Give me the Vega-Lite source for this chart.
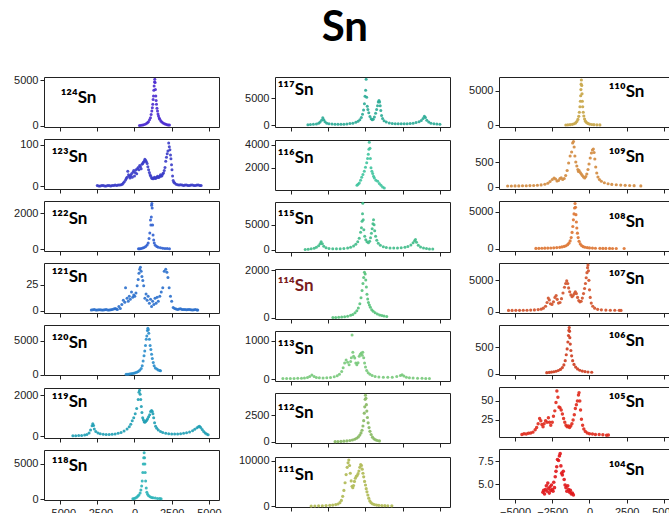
{
"padding": {"left": 13, "top": 6, "right": 0, "bottom": 4},
"title": {"text": "Sn", "font": "Lato", "fontSize": 42, "fontWeight": "bold", "color": "#000", "anchor": "middle", "offset": 24},
"config": {
  "view": {"stroke": "#222", "strokeWidth": 1},
  "axis": {"labelFont": "Liberation Sans", "labelFontSize": 11, "labelColor": "#222", "tickColor": "#222", "tickSize": 4, "labelPadding": 2, "domain": false, "grid": false},
  "axisX": {"labelPadding": 3}
},
"datasets": {
"s124": [{"x":336,"y":50},{"x":450,"y":80},{"x":560,"y":110},{"x":670,"y":170},{"x":784,"y":255},{"x":870,"y":350},{"x":941,"y":475},{"x":1010,"y":680},{"x":1075,"y":910},{"x":1120,"y":1250},{"x":1165,"y":1640},{"x":1200,"y":2000},{"x":1232,"y":2370},{"x":1255,"y":2900},{"x":1277,"y":3285},{"x":1300,"y":3900},{"x":1322,"y":4380},{"x":1345,"y":4800},{"x":1366,"y":5110},{"x":1389,"y":4745},{"x":1410,"y":4000},{"x":1434,"y":3285},{"x":1456,"y":2800},{"x":1478,"y":2370},{"x":1510,"y":1950},{"x":1546,"y":1640},{"x":1580,"y":1300},{"x":1613,"y":1095},{"x":1660,"y":880},{"x":1702,"y":730},{"x":1770,"y":560},{"x":1837,"y":440},{"x":1920,"y":330},{"x":2016,"y":255},{"x":2100,"y":190},{"x":2195,"y":145},{"x":2280,"y":120},{"x":2352,"y":110}],
"s123": [{"x":-2500,"y":2},{"x":-2400,"y":1},{"x":-2300,"y":1},{"x":-2200,"y":2},{"x":-2100,"y":2},{"x":-2000,"y":1},{"x":-1900,"y":1},{"x":-1800,"y":2},{"x":-1700,"y":2},{"x":-1600,"y":1},{"x":-1500,"y":2},{"x":-1400,"y":2},{"x":-1300,"y":3},{"x":-1200,"y":2},{"x":-1100,"y":3},{"x":-1000,"y":3},{"x":-900,"y":4},{"x":-820,"y":5},{"x":-750,"y":8},{"x":-680,"y":11},{"x":-600,"y":15},{"x":-550,"y":19},{"x":-500,"y":22},{"x":-450,"y":36},{"x":-400,"y":28},{"x":-350,"y":24},{"x":-300,"y":20},{"x":-250,"y":26},{"x":-200,"y":30},{"x":-150,"y":22},{"x":-100,"y":34},{"x":-50,"y":38},{"x":0,"y":25},{"x":50,"y":33},{"x":100,"y":40},{"x":150,"y":30},{"x":200,"y":42},{"x":250,"y":45},{"x":300,"y":40},{"x":350,"y":50},{"x":400,"y":47},{"x":450,"y":42},{"x":500,"y":53},{"x":550,"y":55},{"x":600,"y":58},{"x":650,"y":60},{"x":700,"y":65},{"x":750,"y":62},{"x":800,"y":59},{"x":850,"y":55},{"x":900,"y":47},{"x":950,"y":40},{"x":1000,"y":33},{"x":1050,"y":28},{"x":1100,"y":24},{"x":1150,"y":20},{"x":1200,"y":19},{"x":1250,"y":18},{"x":1300,"y":20},{"x":1350,"y":22},{"x":1400,"y":19},{"x":1450,"y":20},{"x":1500,"y":22},{"x":1550,"y":24},{"x":1600,"y":21},{"x":1650,"y":22},{"x":1700,"y":25},{"x":1750,"y":28},{"x":1800,"y":24},{"x":1850,"y":26},{"x":1900,"y":30},{"x":1950,"y":32},{"x":2000,"y":38},{"x":2050,"y":45},{"x":2100,"y":60},{"x":2150,"y":70},{"x":2200,"y":78},{"x":2250,"y":85},{"x":2300,"y":104},{"x":2340,"y":95},{"x":2380,"y":88},{"x":2420,"y":75},{"x":2450,"y":66},{"x":2490,"y":52},{"x":2520,"y":40},{"x":2560,"y":25},{"x":2600,"y":14},{"x":2650,"y":10},{"x":2700,"y":8},{"x":2800,"y":5},{"x":2900,"y":4},{"x":3000,"y":3},{"x":3100,"y":4},{"x":3200,"y":3},{"x":3300,"y":2},{"x":3400,"y":3},{"x":3500,"y":3},{"x":3600,"y":2},{"x":3700,"y":2},{"x":3800,"y":3},{"x":3900,"y":3},{"x":4000,"y":2},{"x":4100,"y":2},{"x":4200,"y":3},{"x":4300,"y":3},{"x":4400,"y":2},{"x":4480,"y":2}],
"s122": [{"x":269,"y":30},{"x":350,"y":35},{"x":450,"y":50},{"x":550,"y":70},{"x":650,"y":100},{"x":750,"y":150},{"x":850,"y":240},{"x":920,"y":350},{"x":980,"y":600},{"x":1030,"y":900},{"x":1075,"y":1630},{"x":1100,"y":1350},{"x":1130,"y":1800},{"x":1150,"y":2450},{"x":1170,"y":2550},{"x":1190,"y":2300},{"x":1220,"y":1350},{"x":1250,"y":800},{"x":1290,"y":520},{"x":1330,"y":350},{"x":1400,"y":220},{"x":1500,"y":150},{"x":1600,"y":110},{"x":1750,"y":80},{"x":1900,"y":60},{"x":2050,"y":50},{"x":2200,"y":40},{"x":2350,"y":35}],
"s121": [{"x":-2900,"y":0.5},{"x":-2800,"y":0.8},{"x":-2700,"y":1},{"x":-2600,"y":0.6},{"x":-2500,"y":0.5},{"x":-2400,"y":0.9},{"x":-2300,"y":0.8},{"x":-2200,"y":0.6},{"x":-2100,"y":0.5},{"x":-2000,"y":0.8},{"x":-1900,"y":1},{"x":-1800,"y":0.6},{"x":-1700,"y":0.7},{"x":-1600,"y":0.9},{"x":-1500,"y":1.2},{"x":-1400,"y":1.5},{"x":-1300,"y":2},{"x":-1220,"y":1.5},{"x":-1150,"y":1},{"x":-1050,"y":4},{"x":-950,"y":2},{"x":-850,"y":6},{"x":-750,"y":10},{"x":-650,"y":8},{"x":-600,"y":22},{"x":-500,"y":12},{"x":-420,"y":9},{"x":-350,"y":14},{"x":-280,"y":11},{"x":-200,"y":18},{"x":-120,"y":13},{"x":-50,"y":15},{"x":20,"y":14},{"x":100,"y":17},{"x":180,"y":24},{"x":250,"y":30},{"x":300,"y":36},{"x":350,"y":40},{"x":400,"y":42},{"x":450,"y":38},{"x":500,"y":33},{"x":560,"y":29},{"x":620,"y":24},{"x":700,"y":12},{"x":780,"y":16},{"x":850,"y":10},{"x":920,"y":14},{"x":1000,"y":7},{"x":1080,"y":11},{"x":1150,"y":4},{"x":1220,"y":9},{"x":1300,"y":6},{"x":1380,"y":12},{"x":1450,"y":7},{"x":1520,"y":13},{"x":1600,"y":9},{"x":1700,"y":14},{"x":1800,"y":18},{"x":1900,"y":22},{"x":2000,"y":38},{"x":2100,"y":40},{"x":2180,"y":37},{"x":2250,"y":32},{"x":2330,"y":22},{"x":2420,"y":14},{"x":2500,"y":9},{"x":2600,"y":3},{"x":2700,"y":2},{"x":2800,"y":1.5},{"x":2900,"y":1},{"x":3000,"y":1.5},{"x":3100,"y":1.8},{"x":3200,"y":1},{"x":3300,"y":1.2},{"x":3400,"y":1},{"x":3500,"y":0.8},{"x":3600,"y":1.1},{"x":3700,"y":1},{"x":3800,"y":0.8},{"x":3900,"y":0.7},{"x":4000,"y":0.9},{"x":4100,"y":1},{"x":4200,"y":0.6},{"x":4250,"y":0.5}],
"s120": [{"x":-560,"y":60},{"x":-450,"y":80},{"x":-350,"y":100},{"x":-250,"y":130},{"x":-150,"y":170},{"x":-50,"y":220},{"x":50,"y":280},{"x":150,"y":360},{"x":250,"y":480},{"x":350,"y":650},{"x":450,"y":900},{"x":520,"y":1300},{"x":580,"y":2000},{"x":640,"y":2800},{"x":690,"y":3500},{"x":740,"y":4300},{"x":790,"y":5200},{"x":830,"y":5700},{"x":870,"y":6500},{"x":900,"y":6850},{"x":930,"y":6600},{"x":960,"y":6100},{"x":1000,"y":5200},{"x":1050,"y":4300},{"x":1100,"y":3700},{"x":1150,"y":3000},{"x":1200,"y":2400},{"x":1260,"y":1800},{"x":1320,"y":1300},{"x":1400,"y":1000},{"x":1500,"y":850},{"x":1600,"y":700},{"x":1700,"y":620},{"x":1750,"y":580}],
"s119": [{"x":-4140,"y":10},{"x":-3950,"y":15},{"x":-3750,"y":20},{"x":-3550,"y":30},{"x":-3350,"y":50},{"x":-3200,"y":80},{"x":-3050,"y":150},{"x":-2950,"y":300},{"x":-2850,"y":500},{"x":-2800,"y":600},{"x":-2750,"y":520},{"x":-2700,"y":350},{"x":-2600,"y":220},{"x":-2450,"y":150},{"x":-2300,"y":110},{"x":-2100,"y":90},{"x":-1900,"y":80},{"x":-1700,"y":80},{"x":-1500,"y":90},{"x":-1300,"y":100},{"x":-1100,"y":130},{"x":-900,"y":170},{"x":-700,"y":240},{"x":-500,"y":340},{"x":-350,"y":450},{"x":-250,"y":580},{"x":-150,"y":750},{"x":-50,"y":900},{"x":50,"y":1100},{"x":150,"y":1350},{"x":250,"y":1800},{"x":300,"y":2150},{"x":340,"y":2250},{"x":380,"y":2050},{"x":420,"y":1800},{"x":460,"y":1450},{"x":500,"y":1150},{"x":550,"y":900},{"x":600,"y":800},{"x":650,"y":700},{"x":700,"y":680},{"x":760,"y":720},{"x":820,"y":780},{"x":880,"y":850},{"x":950,"y":950},{"x":1020,"y":1050},{"x":1080,"y":1200},{"x":1150,"y":1250},{"x":1200,"y":1200},{"x":1240,"y":1100},{"x":1290,"y":900},{"x":1350,"y":650},{"x":1420,"y":480},{"x":1500,"y":380},{"x":1600,"y":300},{"x":1750,"y":220},{"x":1900,"y":170},{"x":2100,"y":130},{"x":2300,"y":110},{"x":2500,"y":100},{"x":2700,"y":100},{"x":2900,"y":100},{"x":3100,"y":110},{"x":3300,"y":130},{"x":3500,"y":160},{"x":3700,"y":200},{"x":3900,"y":260},{"x":4050,"y":330},{"x":4200,"y":400},{"x":4300,"y":460},{"x":4370,"y":480},{"x":4450,"y":420},{"x":4550,"y":320},{"x":4650,"y":220},{"x":4750,"y":150},{"x":4850,"y":100},{"x":4950,"y":60}],
"s118": [{"x":-110,"y":80},{"x":-20,"y":130},{"x":60,"y":200},{"x":150,"y":300},{"x":230,"y":450},{"x":300,"y":600},{"x":380,"y":900},{"x":430,"y":1300},{"x":480,"y":1900},{"x":520,"y":2600},{"x":560,"y":3800},{"x":590,"y":5000},{"x":620,"y":5900},{"x":650,"y":6600},{"x":680,"y":5900},{"x":700,"y":5000},{"x":720,"y":3800},{"x":750,"y":2600},{"x":790,"y":1600},{"x":830,"y":1000},{"x":880,"y":700},{"x":950,"y":500},{"x":1050,"y":350},{"x":1150,"y":270},{"x":1250,"y":220},{"x":1400,"y":170},{"x":1550,"y":130},{"x":1700,"y":100},{"x":1790,"y":90}],
"s117": [{"x":-3870,"y":50},{"x":-3700,"y":80},{"x":-3500,"y":120},{"x":-3300,"y":200},{"x":-3150,"y":350},{"x":-3050,"y":550},{"x":-2950,"y":900},{"x":-2870,"y":1350},{"x":-2800,"y":1000},{"x":-2720,"y":600},{"x":-2600,"y":350},{"x":-2450,"y":230},{"x":-2250,"y":170},{"x":-2050,"y":140},{"x":-1850,"y":130},{"x":-1650,"y":140},{"x":-1450,"y":160},{"x":-1250,"y":200},{"x":-1050,"y":260},{"x":-850,"y":350},{"x":-650,"y":500},{"x":-500,"y":700},{"x":-380,"y":1000},{"x":-280,"y":1400},{"x":-200,"y":2000},{"x":-130,"y":2800},{"x":-70,"y":4000},{"x":-30,"y":5400},{"x":10,"y":6500},{"x":45,"y":8600},{"x":80,"y":5200},{"x":120,"y":3500},{"x":160,"y":2900},{"x":220,"y":2300},{"x":300,"y":1600},{"x":380,"y":1150},{"x":450,"y":1000},{"x":520,"y":1100},{"x":600,"y":1500},{"x":680,"y":2200},{"x":750,"y":2900},{"x":810,"y":3600},{"x":860,"y":4300},{"x":910,"y":4600},{"x":950,"y":4300},{"x":990,"y":3600},{"x":1030,"y":2700},{"x":1080,"y":1800},{"x":1150,"y":1200},{"x":1250,"y":800},{"x":1400,"y":550},{"x":1600,"y":380},{"x":1800,"y":290},{"x":2000,"y":240},{"x":2200,"y":220},{"x":2400,"y":220},{"x":2600,"y":230},{"x":2800,"y":250},{"x":3000,"y":290},{"x":3200,"y":350},{"x":3400,"y":450},{"x":3600,"y":600},{"x":3750,"y":850},{"x":3870,"y":1200},{"x":3960,"y":1650},{"x":4030,"y":1400},{"x":4120,"y":900},{"x":4250,"y":550},{"x":4400,"y":350},{"x":4600,"y":230},{"x":4800,"y":170},{"x":5000,"y":130}],
"s116": [{"x":-570,"y":470},{"x":-500,"y":560},{"x":-415,"y":670},{"x":-330,"y":900},{"x":-254,"y":1170},{"x":-170,"y":1420},{"x":-79,"y":1700},{"x":0,"y":2050},{"x":82,"y":2440},{"x":140,"y":2800},{"x":190,"y":3180},{"x":230,"y":3600},{"x":257,"y":4210},{"x":300,"y":3700},{"x":330,"y":2800},{"x":371,"y":2000},{"x":430,"y":1700},{"x":485,"y":1500},{"x":540,"y":1260},{"x":597,"y":1100},{"x":700,"y":900},{"x":821,"y":820},{"x":930,"y":620},{"x":1043,"y":470},{"x":1150,"y":330},{"x":1265,"y":240}],
"s115": [{"x":-4050,"y":60},{"x":-3850,"y":100},{"x":-3650,"y":170},{"x":-3450,"y":300},{"x":-3300,"y":500},{"x":-3150,"y":800},{"x":-3050,"y":1200},{"x":-2980,"y":1600},{"x":-2900,"y":1200},{"x":-2800,"y":700},{"x":-2650,"y":400},{"x":-2450,"y":250},{"x":-2200,"y":180},{"x":-1950,"y":170},{"x":-1700,"y":190},{"x":-1450,"y":250},{"x":-1200,"y":350},{"x":-1000,"y":500},{"x":-800,"y":750},{"x":-650,"y":1100},{"x":-520,"y":1600},{"x":-420,"y":2300},{"x":-330,"y":3500},{"x":-270,"y":4400},{"x":-230,"y":5700},{"x":-200,"y":7200},{"x":-180,"y":9300},{"x":-150,"y":6000},{"x":-110,"y":4000},{"x":-50,"y":2700},{"x":20,"y":2000},{"x":100,"y":1600},{"x":200,"y":1400},{"x":280,"y":1700},{"x":340,"y":2400},{"x":400,"y":3300},{"x":450,"y":4200},{"x":500,"y":5200},{"x":540,"y":6000},{"x":580,"y":5000},{"x":620,"y":3800},{"x":680,"y":2700},{"x":760,"y":1900},{"x":860,"y":1300},{"x":1000,"y":900},{"x":1200,"y":600},{"x":1400,"y":450},{"x":1650,"y":350},{"x":1900,"y":320},{"x":2150,"y":330},{"x":2400,"y":380},{"x":2650,"y":480},{"x":2850,"y":650},{"x":3050,"y":950},{"x":3200,"y":1400},{"x":3300,"y":1800},{"x":3360,"y":2050},{"x":3430,"y":1500},{"x":3550,"y":900},{"x":3700,"y":550},{"x":3900,"y":350},{"x":4100,"y":230},{"x":4300,"y":160},{"x":4520,"y":120}],
"s114": [{"x":-2190,"y":20},{"x":-2000,"y":25},{"x":-1800,"y":30},{"x":-1600,"y":40},{"x":-1400,"y":55},{"x":-1200,"y":75},{"x":-1000,"y":110},{"x":-850,"y":150},{"x":-700,"y":220},{"x":-580,"y":300},{"x":-480,"y":420},{"x":-380,"y":600},{"x":-300,"y":850},{"x":-230,"y":1150},{"x":-170,"y":1450},{"x":-120,"y":1700},{"x":-70,"y":1920},{"x":-20,"y":1850},{"x":20,"y":1600},{"x":60,"y":1300},{"x":100,"y":1000},{"x":150,"y":800},{"x":200,"y":650},{"x":260,"y":550},{"x":330,"y":450},{"x":420,"y":350},{"x":520,"y":280},{"x":650,"y":220},{"x":800,"y":170},{"x":950,"y":130},{"x":1100,"y":100},{"x":1250,"y":80},{"x":1430,"y":60}],
"s113": [{"x":-5550,"y":20},{"x":-5300,"y":20},{"x":-5050,"y":22},{"x":-4800,"y":22},{"x":-4550,"y":25},{"x":-4300,"y":28},{"x":-4100,"y":33},{"x":-3900,"y":45},{"x":-3750,"y":70},{"x":-3600,"y":110},{"x":-3450,"y":70},{"x":-3300,"y":45},{"x":-3100,"y":38},{"x":-2850,"y":35},{"x":-2600,"y":40},{"x":-2350,"y":48},{"x":-2100,"y":65},{"x":-1900,"y":90},{"x":-1750,"y":130},{"x":-1600,"y":200},{"x":-1500,"y":300},{"x":-1400,"y":420},{"x":-1300,"y":500},{"x":-1200,"y":440},{"x":-1100,"y":380},{"x":-1000,"y":460},{"x":-950,"y":560},{"x":-900,"y":1150},{"x":-850,"y":700},{"x":-800,"y":600},{"x":-720,"y":550},{"x":-650,"y":420},{"x":-580,"y":380},{"x":-500,"y":430},{"x":-420,"y":600},{"x":-350,"y":650},{"x":-280,"y":680},{"x":-220,"y":620},{"x":-180,"y":700},{"x":-120,"y":560},{"x":-60,"y":420},{"x":0,"y":320},{"x":80,"y":230},{"x":180,"y":170},{"x":300,"y":130},{"x":450,"y":100},{"x":650,"y":75},{"x":900,"y":60},{"x":1200,"y":50},{"x":1500,"y":50},{"x":1800,"y":55},{"x":2100,"y":70},{"x":2350,"y":100},{"x":2460,"y":115},{"x":2580,"y":85},{"x":2750,"y":55},{"x":2950,"y":40},{"x":3200,"y":32},{"x":3500,"y":28},{"x":3800,"y":25},{"x":4050,"y":22},{"x":4300,"y":20}],
"s112": [{"x":-2040,"y":30},{"x":-1850,"y":40},{"x":-1650,"y":55},{"x":-1450,"y":75},{"x":-1250,"y":100},{"x":-1050,"y":140},{"x":-880,"y":190},{"x":-730,"y":260},{"x":-600,"y":350},{"x":-480,"y":480},{"x":-380,"y":650},{"x":-300,"y":850},{"x":-230,"y":1100},{"x":-170,"y":1500},{"x":-120,"y":2000},{"x":-80,"y":2700},{"x":-50,"y":3300},{"x":-20,"y":4000},{"x":0,"y":4380},{"x":30,"y":4100},{"x":60,"y":3500},{"x":90,"y":2900},{"x":130,"y":2300},{"x":180,"y":1800},{"x":240,"y":1350},{"x":300,"y":1000},{"x":380,"y":700},{"x":470,"y":450},{"x":570,"y":300},{"x":680,"y":200},{"x":800,"y":140},{"x":940,"y":100}],
"s111": [{"x":-3650,"y":60},{"x":-3400,"y":80},{"x":-3150,"y":100},{"x":-2900,"y":130},{"x":-2650,"y":170},{"x":-2400,"y":220},{"x":-2200,"y":280},{"x":-2000,"y":380},{"x":-1850,"y":520},{"x":-1720,"y":800},{"x":-1620,"y":1300},{"x":-1530,"y":2200},{"x":-1450,"y":3500},{"x":-1370,"y":5200},{"x":-1300,"y":7000},{"x":-1230,"y":8600},{"x":-1170,"y":9600},{"x":-1120,"y":10200},{"x":-1070,"y":9000},{"x":-1020,"y":7300},{"x":-960,"y":5600},{"x":-900,"y":4400},{"x":-850,"y":4100},{"x":-800,"y":4600},{"x":-740,"y":5500},{"x":-680,"y":6200},{"x":-620,"y":6600},{"x":-560,"y":6800},{"x":-500,"y":7200},{"x":-440,"y":7800},{"x":-380,"y":8600},{"x":-320,"y":9200},{"x":-270,"y":9000},{"x":-220,"y":8200},{"x":-170,"y":7300},{"x":-120,"y":6500},{"x":-60,"y":5500},{"x":0,"y":4700},{"x":50,"y":3900},{"x":100,"y":3200},{"x":160,"y":2500},{"x":220,"y":1800},{"x":290,"y":1200},{"x":370,"y":800},{"x":470,"y":550},{"x":600,"y":380},{"x":750,"y":280},{"x":900,"y":220},{"x":1100,"y":170},{"x":1300,"y":140},{"x":1500,"y":120},{"x":1770,"y":100}],
"s110": [{"x":-1590,"y":40},{"x":-1450,"y":60},{"x":-1300,"y":90},{"x":-1150,"y":140},{"x":-1030,"y":220},{"x":-930,"y":350},{"x":-850,"y":550},{"x":-780,"y":850},{"x":-720,"y":1300},{"x":-680,"y":1900},{"x":-640,"y":2700},{"x":-610,"y":3500},{"x":-590,"y":4300},{"x":-575,"y":5200},{"x":-560,"y":6000},{"x":-545,"y":6600},{"x":-520,"y":5800},{"x":-500,"y":4600},{"x":-480,"y":3500},{"x":-455,"y":2700},{"x":-420,"y":1900},{"x":-380,"y":1350},{"x":-330,"y":900},{"x":-270,"y":600},{"x":-200,"y":400},{"x":-110,"y":270},{"x":0,"y":180},{"x":150,"y":120},{"x":300,"y":90},{"x":500,"y":60},{"x":700,"y":50}],
"s109": [{"x":-5500,"y":20},{"x":-5250,"y":20},{"x":-5000,"y":22},{"x":-4750,"y":22},{"x":-4500,"y":25},{"x":-4250,"y":25},{"x":-4000,"y":28},{"x":-3750,"y":30},{"x":-3500,"y":35},{"x":-3250,"y":42},{"x":-3000,"y":55},{"x":-2800,"y":75},{"x":-2650,"y":110},{"x":-2500,"y":150},{"x":-2380,"y":180},{"x":-2280,"y":160},{"x":-2180,"y":120},{"x":-2080,"y":130},{"x":-1980,"y":170},{"x":-1900,"y":185},{"x":-1800,"y":150},{"x":-1700,"y":170},{"x":-1600,"y":230},{"x":-1500,"y":330},{"x":-1400,"y":480},{"x":-1300,"y":620},{"x":-1200,"y":700},{"x":-1130,"y":880},{"x":-1075,"y":910},{"x":-1030,"y":800},{"x":-980,"y":620},{"x":-920,"y":500},{"x":-850,"y":420},{"x":-780,"y":350},{"x":-740,"y":310},{"x":-700,"y":330},{"x":-620,"y":290},{"x":-550,"y":260},{"x":-480,"y":230},{"x":-400,"y":200},{"x":-320,"y":180},{"x":-250,"y":210},{"x":-180,"y":260},{"x":-100,"y":350},{"x":-30,"y":460},{"x":50,"y":580},{"x":130,"y":680},{"x":200,"y":740},{"x":260,"y":760},{"x":310,"y":690},{"x":360,"y":560},{"x":420,"y":400},{"x":490,"y":280},{"x":570,"y":200},{"x":670,"y":150},{"x":800,"y":115},{"x":1000,"y":85},{"x":1250,"y":65},{"x":1500,"y":52},{"x":1800,"y":45},{"x":2100,"y":38},{"x":2400,"y":33},{"x":2700,"y":30},{"x":3000,"y":26},{"x":3450,"y":22}],
"s108": [{"x":-3600,"y":40},{"x":-3400,"y":50},{"x":-3200,"y":60},{"x":-3000,"y":70},{"x":-2800,"y":85},{"x":-2600,"y":100},{"x":-2400,"y":120},{"x":-2200,"y":150},{"x":-2000,"y":190},{"x":-1850,"y":240},{"x":-1700,"y":310},{"x":-1580,"y":400},{"x":-1470,"y":550},{"x":-1380,"y":750},{"x":-1300,"y":1050},{"x":-1230,"y":1500},{"x":-1170,"y":2200},{"x":-1120,"y":3000},{"x":-1080,"y":3900},{"x":-1040,"y":4700},{"x":-1000,"y":5500},{"x":-970,"y":6100},{"x":-940,"y":5600},{"x":-910,"y":4600},{"x":-880,"y":3600},{"x":-850,"y":2800},{"x":-810,"y":2100},{"x":-760,"y":1500},{"x":-700,"y":1000},{"x":-620,"y":650},{"x":-530,"y":420},{"x":-420,"y":280},{"x":-300,"y":200},{"x":-150,"y":150},{"x":0,"y":110},{"x":200,"y":80},{"x":400,"y":60},{"x":700,"y":50},{"x":900,"y":40},{"x":1100,"y":40},{"x":1350,"y":35},{"x":1550,"y":30},{"x":1800,"y":30},{"x":2330,"y":30}],
"s107": [{"x":-5440,"y":250},{"x":-5200,"y":250},{"x":-4950,"y":260},{"x":-4700,"y":260},{"x":-4450,"y":270},{"x":-4200,"y":280},{"x":-3950,"y":300},{"x":-3700,"y":330},{"x":-3450,"y":380},{"x":-3250,"y":450},{"x":-3100,"y":600},{"x":-2950,"y":900},{"x":-2850,"y":1500},{"x":-2770,"y":2200},{"x":-2700,"y":1900},{"x":-2620,"y":1300},{"x":-2520,"y":1200},{"x":-2420,"y":1600},{"x":-2320,"y":2300},{"x":-2240,"y":2600},{"x":-2170,"y":2000},{"x":-2080,"y":1400},{"x":-1980,"y":1500},{"x":-1880,"y":2100},{"x":-1780,"y":3000},{"x":-1680,"y":3900},{"x":-1600,"y":4500},{"x":-1530,"y":4900},{"x":-1460,"y":4500},{"x":-1400,"y":3800},{"x":-1330,"y":3200},{"x":-1250,"y":2700},{"x":-1170,"y":2400},{"x":-1100,"y":2600},{"x":-1020,"y":2900},{"x":-950,"y":3200},{"x":-880,"y":2900},{"x":-800,"y":2300},{"x":-720,"y":1800},{"x":-640,"y":1600},{"x":-560,"y":1700},{"x":-480,"y":2200},{"x":-400,"y":2900},{"x":-330,"y":3700},{"x":-270,"y":4500},{"x":-220,"y":5400},{"x":-170,"y":6200},{"x":-130,"y":7000},{"x":-100,"y":7400},{"x":-70,"y":6500},{"x":-40,"y":5000},{"x":0,"y":3500},{"x":50,"y":2300},{"x":120,"y":1400},{"x":220,"y":900},{"x":350,"y":600},{"x":550,"y":420},{"x":800,"y":340},{"x":1100,"y":300},{"x":1400,"y":280},{"x":1700,"y":270},{"x":2000,"y":260},{"x":2120,"y":250}],
"s106": [{"x":-2870,"y":25},{"x":-2700,"y":30},{"x":-2550,"y":35},{"x":-2400,"y":42},{"x":-2250,"y":52},{"x":-2100,"y":65},{"x":-1950,"y":85},{"x":-1820,"y":120},{"x":-1720,"y":170},{"x":-1630,"y":250},{"x":-1560,"y":360},{"x":-1500,"y":470},{"x":-1450,"y":600},{"x":-1410,"y":720},{"x":-1380,"y":820},{"x":-1360,"y":870},{"x":-1340,"y":800},{"x":-1320,"y":680},{"x":-1290,"y":560},{"x":-1250,"y":440},{"x":-1200,"y":340},{"x":-1130,"y":250},{"x":-1040,"y":180},{"x":-930,"y":130},{"x":-800,"y":95},{"x":-650,"y":70},{"x":-480,"y":55},{"x":-300,"y":45},{"x":-100,"y":38},{"x":150,"y":32}],
"s105": [{"x":-4540,"y":6},{"x":-4400,"y":7},{"x":-4250,"y":6.5},{"x":-4100,"y":7.5},{"x":-3950,"y":8},{"x":-3800,"y":9},{"x":-3650,"y":12},{"x":-3550,"y":15},{"x":-3450,"y":20},{"x":-3350,"y":27},{"x":-3270,"y":24},{"x":-3200,"y":19},{"x":-3120,"y":16},{"x":-3050,"y":20},{"x":-2950,"y":24},{"x":-2850,"y":22},{"x":-2760,"y":28},{"x":-2680,"y":22},{"x":-2600,"y":18},{"x":-2500,"y":22},{"x":-2420,"y":30},{"x":-2330,"y":37},{"x":-2250,"y":48},{"x":-2190,"y":63},{"x":-2120,"y":55},{"x":-2050,"y":42},{"x":-1980,"y":41},{"x":-1900,"y":38},{"x":-1820,"y":33},{"x":-1740,"y":27},{"x":-1660,"y":22},{"x":-1580,"y":18},{"x":-1500,"y":16},{"x":-1420,"y":17},{"x":-1340,"y":15},{"x":-1260,"y":17},{"x":-1180,"y":20},{"x":-1100,"y":25},{"x":-1020,"y":32},{"x":-950,"y":40},{"x":-880,"y":45},{"x":-810,"y":50},{"x":-740,"y":58},{"x":-700,"y":61},{"x":-650,"y":50},{"x":-600,"y":38},{"x":-540,"y":26},{"x":-460,"y":18},{"x":-380,"y":13},{"x":-280,"y":10},{"x":-150,"y":8},{"x":0,"y":7},{"x":200,"y":6.5},{"x":400,"y":6},{"x":650,"y":6},{"x":900,"y":5.5},{"x":1150,"y":5},{"x":1270,"y":5.2}],
"s104": [{"x":-3130,"y":4.1},{"x":-3080,"y":4.3},{"x":-3020,"y":3.9},{"x":-2960,"y":4.4},{"x":-2900,"y":4.8},{"x":-2850,"y":4.2},{"x":-2800,"y":5.1},{"x":-2750,"y":4.5},{"x":-2700,"y":4.0},{"x":-2650,"y":4.7},{"x":-2600,"y":4.3},{"x":-2550,"y":4.9},{"x":-2500,"y":4.4},{"x":-2450,"y":4.2},{"x":-2400,"y":5.2},{"x":-2350,"y":4.6},{"x":-2300,"y":5.8},{"x":-2250,"y":6.4},{"x":-2200,"y":6.9},{"x":-2150,"y":7.7},{"x":-2080,"y":7.6},{"x":-2020,"y":8.1},{"x":-1970,"y":8.35},{"x":-1920,"y":7.0},{"x":-1870,"y":6.2},{"x":-1820,"y":6.0},{"x":-1760,"y":6.4},{"x":-1700,"y":5.5},{"x":-1640,"y":4.9},{"x":-1580,"y":4.6},{"x":-1520,"y":4.2},{"x":-1460,"y":4.8},{"x":-1400,"y":4.4},{"x":-1340,"y":4.1},{"x":-1280,"y":4.3},{"x":-1220,"y":3.9},{"x":-1150,"y":4.0},{"x":-1080,"y":3.8}]
},
"hconcat": [
{"vconcat": [
{"width":175,"height":50,"layer":[
 {"data":{"name":"s124"},"mark":{"type":"point","filled":true,"size":9,"color":"#4a2bd0","opacity":0.9},"encoding":{"x":{"field":"x","type":"quantitative","scale":{"domain":[-6080,5680],"nice":false},"axis":{"values":[-5000,-2500,0,2500,5000],"labels":false,"title":null}},"y":{"field":"y","type":"quantitative","scale":{"domain":[-110,5360],"nice":false,"zero":false},"axis":{"values":[0,5000],"format":"d","title":null}}}},
 {"data":{"values":[{"t":"¹²⁴Sn"}]},"mark":{"type":"text","align":"left","font":"Lato","fontWeight":"bold","fontSize":17},"encoding":{"text":{"field":"t"},"x":{"datum":-4961},"y":{"datum":3063}}}]},
{"width":175,"height":50,"layer":[
 {"data":{"name":"s123"},"mark":{"type":"point","filled":true,"size":9,"color":"#3a3cc8","opacity":0.9},"encoding":{"x":{"field":"x","type":"quantitative","scale":{"domain":[-6080,5680],"nice":false},"axis":{"values":[-5000,-2500,0,2500,5000],"labels":false,"title":null}},"y":{"field":"y","type":"quantitative","scale":{"domain":[-6.5,113.7],"nice":false,"zero":false},"axis":{"values":[0,100],"format":"d","title":null}}}},
 {"data":{"values":[{"t":"¹²³Sn"}]},"mark":{"type":"text","align":"left","font":"Lato","fontWeight":"bold","fontSize":17},"encoding":{"text":{"field":"t"},"x":{"datum":-5566},"y":{"datum":70.4}}}]},
{"width":175,"height":50,"layer":[
 {"data":{"name":"s122"},"mark":{"type":"point","filled":true,"size":9,"color":"#2f5fd0","opacity":0.9},"encoding":{"x":{"field":"x","type":"quantitative","scale":{"domain":[-6080,5680],"nice":false},"axis":{"values":[-5000,-2500,0,2500,5000],"labels":false,"title":null}},"y":{"field":"y","type":"quantitative","scale":{"domain":[-95,2685],"nice":false,"zero":false},"axis":{"values":[0,2000],"format":"d","title":null}}}},
 {"data":{"values":[{"t":"¹²²Sn"}]},"mark":{"type":"text","align":"left","font":"Lato","fontWeight":"bold","fontSize":17},"encoding":{"text":{"field":"t"},"x":{"datum":-5566},"y":{"datum":1684}}}]},
{"width":175,"height":50,"layer":[
 {"data":{"name":"s121"},"mark":{"type":"point","filled":true,"size":9,"color":"#2a6fcc","opacity":0.9},"encoding":{"x":{"field":"x","type":"quantitative","scale":{"domain":[-6080,5680],"nice":false},"axis":{"values":[-5000,-2500,0,2500,5000],"labels":false,"title":null}},"y":{"field":"y","type":"quantitative","scale":{"domain":[-2.3,46],"nice":false,"zero":false},"axis":{"values":[0,25],"format":"d","title":null}}}},
 {"data":{"values":[{"t":"¹²¹Sn"}]},"mark":{"type":"text","align":"left","font":"Lato","fontWeight":"bold","fontSize":17},"encoding":{"text":{"field":"t"},"x":{"datum":-5566},"y":{"datum":32.5}}}]},
{"width":175,"height":50,"layer":[
 {"data":{"name":"s120"},"mark":{"type":"point","filled":true,"size":9,"color":"#2a8dcc","opacity":0.9},"encoding":{"x":{"field":"x","type":"quantitative","scale":{"domain":[-6080,5680],"nice":false},"axis":{"values":[-5000,-2500,0,2500,5000],"labels":false,"title":null}},"y":{"field":"y","type":"quantitative","scale":{"domain":[-44,7310],"nice":false,"zero":false},"axis":{"values":[0,5000],"format":"d","title":null}}}},
 {"data":{"values":[{"t":"¹²⁰Sn"}]},"mark":{"type":"text","align":"left","font":"Lato","fontWeight":"bold","fontSize":17},"encoding":{"text":{"field":"t"},"x":{"datum":-5566},"y":{"datum":4662}}}]},
{"width":175,"height":50,"layer":[
 {"data":{"name":"s119"},"mark":{"type":"point","filled":true,"size":9,"color":"#1f9fb4","opacity":0.9},"encoding":{"x":{"field":"x","type":"quantitative","scale":{"domain":[-6080,5680],"nice":false},"axis":{"values":[-5000,-2500,0,2500,5000],"labels":false,"title":null}},"y":{"field":"y","type":"quantitative","scale":{"domain":[-98,2360],"nice":false,"zero":false},"axis":{"values":[0,2000],"format":"d","title":null}}}},
 {"data":{"values":[{"t":"¹¹⁹Sn"}]},"mark":{"type":"text","align":"left","font":"Lato","fontWeight":"bold","fontSize":17},"encoding":{"text":{"field":"t"},"x":{"datum":-5566},"y":{"datum":1671}}}]},
{"width":175,"height":50,"layer":[
 {"data":{"name":"s118"},"mark":{"type":"point","filled":true,"size":9,"color":"#2bb2b8","opacity":0.9},"encoding":{"x":{"field":"x","type":"quantitative","scale":{"domain":[-6080,5680],"nice":false},"axis":{"values":[-5000,-2500,0,2500,5000],"format":"d","title":null}},"y":{"field":"y","type":"quantitative","scale":{"domain":[-100,6980],"nice":false,"zero":false},"axis":{"values":[0,5000],"format":"d","title":null}}}},
 {"data":{"values":[{"t":"¹¹⁸Sn"}]},"mark":{"type":"text","align":"left","font":"Lato","fontWeight":"bold","fontSize":17},"encoding":{"text":{"field":"t"},"x":{"datum":-5566},"y":{"datum":4714}}}]}
], "spacing": 6},
{"vconcat": [
{"width":175,"height":50,"layer":[
 {"data":{"name":"s117"},"mark":{"type":"point","filled":true,"size":9,"color":"#2aab96","opacity":0.9},"encoding":{"x":{"field":"x","type":"quantitative","scale":{"domain":[-6080,5680],"nice":false},"axis":{"values":[-5000,-2500,0,2500,5000],"labels":false,"title":null}},"y":{"field":"y","type":"quantitative","scale":{"domain":[-375,9000],"nice":false,"zero":false},"axis":{"values":[0,5000],"format":"d","title":null}}}},
 {"data":{"values":[{"t":"¹¹⁷Sn"}]},"mark":{"type":"text","align":"left","font":"Lato","fontWeight":"bold","fontSize":17},"encoding":{"text":{"field":"t"},"x":{"datum":-5900},"y":{"datum":6562}}}]},
{"width":175,"height":50,"layer":[
 {"data":{"name":"s116"},"mark":{"type":"point","filled":true,"size":9,"color":"#3fc49f","opacity":0.9},"encoding":{"x":{"field":"x","type":"quantitative","scale":{"domain":[-6080,5680],"nice":false},"axis":{"values":[-5000,-2500,0,2500,5000],"labels":false,"title":null}},"y":{"field":"y","type":"quantitative","scale":{"domain":[60,4414],"nice":false,"zero":false},"axis":{"values":[2000,4000],"format":"d","title":null}}}},
 {"data":{"values":[{"t":"¹¹⁶Sn"}]},"mark":{"type":"text","align":"left","font":"Lato","fontWeight":"bold","fontSize":17},"encoding":{"text":{"field":"t"},"x":{"datum":-5900},"y":{"datum":2846}}}]},
{"width":175,"height":50,"layer":[
 {"data":{"name":"s115"},"mark":{"type":"point","filled":true,"size":9,"color":"#3fbb88","opacity":0.9},"encoding":{"x":{"field":"x","type":"quantitative","scale":{"domain":[-6080,5680],"nice":false},"axis":{"values":[-5000,-2500,0,2500,5000],"labels":false,"title":null}},"y":{"field":"y","type":"quantitative","scale":{"domain":[-460,9540],"nice":false,"zero":false},"axis":{"values":[0,5000],"format":"d","title":null}}}},
 {"data":{"values":[{"t":"¹¹⁵Sn"}]},"mark":{"type":"text","align":"left","font":"Lato","fontWeight":"bold","fontSize":17},"encoding":{"text":{"field":"t"},"x":{"datum":-5900},"y":{"datum":6140}}}]},
{"width":175,"height":50,"layer":[
 {"data":{"name":"s114"},"mark":{"type":"point","filled":true,"size":9,"color":"#55c27a","opacity":0.9},"encoding":{"x":{"field":"x","type":"quantitative","scale":{"domain":[-6080,5680],"nice":false},"axis":{"values":[-5000,-2500,0,2500,5000],"labels":false,"title":null}},"y":{"field":"y","type":"quantitative","scale":{"domain":[-43,2057],"nice":false,"zero":false},"axis":{"values":[0,2000],"format":"d","title":null}}}},
 {"data":{"values":[{"t":"¹¹⁴Sn"}]},"mark":{"type":"text","align":"left","font":"Lato","fontWeight":"bold","fontSize":17,"color":"#7a1c1c"},"encoding":{"text":{"field":"t"},"x":{"datum":-5900},"y":{"datum":1343}}}]},
{"width":175,"height":50,"layer":[
 {"data":{"name":"s113"},"mark":{"type":"point","filled":true,"size":9,"color":"#77c97a","opacity":0.9},"encoding":{"x":{"field":"x","type":"quantitative","scale":{"domain":[-6080,5680],"nice":false},"axis":{"values":[-5000,-2500,0,2500,5000],"labels":false,"title":null}},"y":{"field":"y","type":"quantitative","scale":{"domain":[-44,1251],"nice":false,"zero":false},"axis":{"values":[0,1000],"format":"d","title":null}}}},
 {"data":{"values":[{"t":"¹¹³Sn"}]},"mark":{"type":"text","align":"left","font":"Lato","fontWeight":"bold","fontSize":17},"encoding":{"text":{"field":"t"},"x":{"datum":-5900},"y":{"datum":785}}}]},
{"width":175,"height":50,"layer":[
 {"data":{"name":"s112"},"mark":{"type":"point","filled":true,"size":10,"color":"#8cbc68","opacity":0.95},"encoding":{"x":{"field":"x","type":"quantitative","scale":{"domain":[-6080,5680],"nice":false},"axis":{"values":[-5000,-2500,0,2500,5000],"labels":false,"title":null}},"y":{"field":"y","type":"quantitative","scale":{"domain":[-94,4594],"nice":false,"zero":false},"axis":{"values":[0,2500],"format":"d","title":null}}}},
 {"data":{"values":[{"t":"¹¹²Sn"}]},"mark":{"type":"text","align":"left","font":"Lato","fontWeight":"bold","fontSize":17},"encoding":{"text":{"field":"t"},"x":{"datum":-5900},"y":{"datum":2718}}}]},
{"width":175,"height":50,"layer":[
 {"data":{"name":"s111"},"mark":{"type":"point","filled":true,"size":10,"color":"#b3bd5c","opacity":0.95},"encoding":{"x":{"field":"x","type":"quantitative","scale":{"domain":[-6080,5680],"nice":false},"axis":{"values":[-5000,-2500,0,2500,5000],"format":"d","title":null}},"y":{"field":"y","type":"quantitative","scale":{"domain":[-150,10880],"nice":false,"zero":false},"axis":{"values":[0,10000],"format":"d","title":null}}}},
 {"data":{"values":[{"t":"¹¹¹Sn"}]},"mark":{"type":"text","align":"left","font":"Lato","fontWeight":"bold","fontSize":17},"encoding":{"text":{"field":"t"},"x":{"datum":-5900},"y":{"datum":6909}}}]}
], "spacing": 6},
{"vconcat": [
{"width":175,"height":50,"layer":[
 {"data":{"name":"s110"},"mark":{"type":"point","filled":true,"size":10,"color":"#c9a94e","opacity":0.95},"encoding":{"x":{"field":"x","type":"quantitative","scale":{"domain":[-6080,5680],"nice":false},"axis":{"values":[-5000,-2500,0,2500,5000],"labels":false,"title":null}},"y":{"field":"y","type":"quantitative","scale":{"domain":[-250,7040],"nice":false,"zero":false},"axis":{"values":[0,5000],"format":"d","title":null}}}},
 {"data":{"values":[{"t":"¹¹⁰Sn"}]},"mark":{"type":"text","align":"left","font":"Lato","fontWeight":"bold","fontSize":17},"encoding":{"text":{"field":"t"},"x":{"datum":1289},"y":{"datum":4853}}}]},
{"width":175,"height":50,"layer":[
 {"data":{"name":"s109"},"mark":{"type":"point","filled":true,"size":10,"color":"#d48f48","opacity":0.95},"encoding":{"x":{"field":"x","type":"quantitative","scale":{"domain":[-6080,5680],"nice":false},"axis":{"values":[-5000,-2500,0,2500,5000],"labels":false,"title":null}},"y":{"field":"y","type":"quantitative","scale":{"domain":[-40,960],"nice":false,"zero":false},"axis":{"values":[0,500],"format":"d","title":null}}}},
 {"data":{"values":[{"t":"¹⁰⁹Sn"}]},"mark":{"type":"text","align":"left","font":"Lato","fontWeight":"bold","fontSize":17},"encoding":{"text":{"field":"t"},"x":{"datum":1289},"y":{"datum":600}}}]},
{"width":175,"height":50,"layer":[
 {"data":{"name":"s108"},"mark":{"type":"point","filled":true,"size":10,"color":"#de7a3a","opacity":0.95},"encoding":{"x":{"field":"x","type":"quantitative","scale":{"domain":[-6080,5680],"nice":false},"axis":{"values":[-5000,-2500,0,2500,5000],"labels":false,"title":null}},"y":{"field":"y","type":"quantitative","scale":{"domain":[-310,6440],"nice":false,"zero":false},"axis":{"values":[0,5000],"format":"d","title":null}}}},
 {"data":{"values":[{"t":"¹⁰⁸Sn"}]},"mark":{"type":"text","align":"left","font":"Lato","fontWeight":"bold","fontSize":17},"encoding":{"text":{"field":"t"},"x":{"datum":1289},"y":{"datum":3605}}}]},
{"width":175,"height":50,"layer":[
 {"data":{"name":"s107"},"mark":{"type":"point","filled":true,"size":10,"color":"#d45a34","opacity":0.95},"encoding":{"x":{"field":"x","type":"quantitative","scale":{"domain":[-6080,5680],"nice":false},"axis":{"values":[-5000,-2500,0,2500,5000],"labels":false,"title":null}},"y":{"field":"y","type":"quantitative","scale":{"domain":[-160,7730],"nice":false,"zero":false},"axis":{"values":[0,5000],"format":"d","title":null}}}},
 {"data":{"values":[{"t":"¹⁰⁷Sn"}]},"mark":{"type":"text","align":"left","font":"Lato","fontWeight":"bold","fontSize":17},"encoding":{"text":{"field":"t"},"x":{"datum":1289},"y":{"datum":5205}}}]},
{"width":175,"height":50,"layer":[
 {"data":{"name":"s106"},"mark":{"type":"point","filled":true,"size":10,"color":"#d04428","opacity":0.95},"encoding":{"x":{"field":"x","type":"quantitative","scale":{"domain":[-6080,5680],"nice":false},"axis":{"values":[-5000,-2500,0,2500,5000],"labels":false,"title":null}},"y":{"field":"y","type":"quantitative","scale":{"domain":[-19,918],"nice":false,"zero":false},"axis":{"values":[0,500],"format":"d","title":null}}}},
 {"data":{"values":[{"t":"¹⁰⁶Sn"}]},"mark":{"type":"text","align":"left","font":"Lato","fontWeight":"bold","fontSize":17},"encoding":{"text":{"field":"t"},"x":{"datum":1289},"y":{"datum":618}}}]},
{"width":175,"height":50,"layer":[
 {"data":{"name":"s105"},"mark":{"type":"point","filled":true,"size":12,"color":"#e02a1c","opacity":0.9},"encoding":{"x":{"field":"x","type":"quantitative","scale":{"domain":[-6080,5680],"nice":false},"axis":{"values":[-5000,-2500,0,2500,5000],"labels":false,"title":null}},"y":{"field":"y","type":"quantitative","scale":{"domain":[2.6,68.4],"nice":false,"zero":false},"axis":{"values":[25,50],"format":"d","title":null}}}},
 {"data":{"values":[{"t":"¹⁰⁵Sn"}]},"mark":{"type":"text","align":"left","font":"Lato","fontWeight":"bold","fontSize":17},"encoding":{"text":{"field":"t"},"x":{"datum":1289},"y":{"datum":48.7}}}]},
{"width":175,"height":50,"layer":[
 {"data":{"name":"s104"},"mark":{"type":"point","filled":true,"size":13,"color":"#e0161a","opacity":0.9},"encoding":{"x":{"field":"x","type":"quantitative","scale":{"domain":[-6080,5680],"nice":false},"axis":{"values":[-5000,-2500,0,2500,5000],"format":"d","title":null}},"y":{"field":"y","type":"quantitative","scale":{"domain":[3.35,8.86],"nice":false,"zero":false},"axis":{"values":[5,7.5],"format":".1f","title":null}}}},
 {"data":{"values":[{"t":"¹⁰⁴Sn"}]},"mark":{"type":"text","align":"left","font":"Lato","fontWeight":"bold","fontSize":17},"encoding":{"text":{"field":"t"},"x":{"datum":1289},"y":{"datum":6.55}}}]}
], "spacing": 6}
],
"spacing": 15
}
